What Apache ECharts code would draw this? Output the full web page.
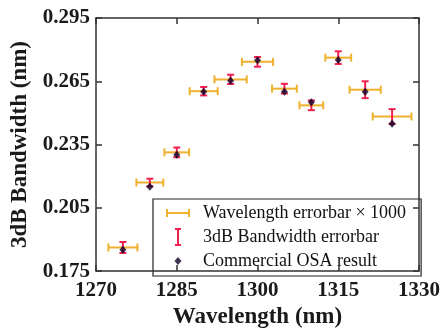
<!DOCTYPE html>
<html style="height: 100%">
<head>
<meta charset="utf-8">
<script src="https://cdn.jsdelivr.net/npm/echarts@6/dist/echarts.min.js"></script>
</head>
<body style="height: 100%; margin: 0; background: #fff;">
<div id="container" style="width: 443px; height: 334px"></div>
<script type="text/javascript">
// values
var wavelength = [1275, 1280, 1285, 1290, 1295, 1300, 1305, 1310, 1315, 1320, 1325];
var wlError    = [2.7, 2.5, 2.3, 2.6, 3.0, 2.9, 2.3, 2.2, 2.4, 2.9, 3.6];   // x1000, in nm
var bandwidth  = [0.1862, 0.2170, 0.2313, 0.2603, 0.2659, 0.2742, 0.2615, 0.2536, 0.2762, 0.2610, 0.2483];
var bwError    = [0.0026, 0.0018, 0.0023, 0.0020, 0.0022, 0.0023, 0.0023, 0.0023, 0.0030, 0.0040, 0.0035];
var osaResult  = [0.1851, 0.2150, 0.2302, 0.2600, 0.2652, 0.2750, 0.2600, 0.2550, 0.2751, 0.2600, 0.2449];

var xTicks = [1270, 1285, 1300, 1315, 1330];
var yTicks = [0.175, 0.205, 0.235, 0.265, 0.295];

var ORANGE = '#EFB12E';
var RED = '#F0204F';
var DARK = '#0E0026';
var FONT = 'Liberation Serif';

var myChart = echarts.init(document.getElementById('container'));

var wlData = [], bwData = [], osaData = [];
for (var i = 0; i < wavelength.length; i++) {
    wlData.push([wavelength[i], bandwidth[i], wlError[i]]);
    bwData.push([wavelength[i], bandwidth[i], bwError[i]]);
    osaData.push([wavelength[i], osaResult[i]]);
}

function renderWl(params, api) {
    var x = api.value(0), y = api.value(1), e = api.value(2);
    var a = api.coord([x - e, y]), b = api.coord([x + e, y]);
    var h = 4;
    var st = {stroke: ORANGE, lineWidth: 2, fill: null};
    return {type: 'group', children: [
        {type: 'line', shape: {x1: a[0], y1: a[1], x2: b[0], y2: b[1]}, style: st},
        {type: 'line', shape: {x1: a[0], y1: a[1] - h, x2: a[0], y2: a[1] + h}, style: st},
        {type: 'line', shape: {x1: b[0], y1: b[1] - h, x2: b[0], y2: b[1] + h}, style: st}
    ]};
}

function renderBw(params, api) {
    var x = api.value(0), y = api.value(1), e = api.value(2);
    var a = api.coord([x, y - e]), b = api.coord([x, y + e]);
    var w = 3.5;
    var st = {stroke: RED, lineWidth: 2, fill: null};
    return {type: 'group', children: [
        {type: 'line', shape: {x1: a[0], y1: a[1], x2: b[0], y2: b[1]}, style: st},
        {type: 'line', shape: {x1: a[0] - w, y1: a[1], x2: a[0] + w, y2: a[1]}, style: st},
        {type: 'line', shape: {x1: b[0] - w, y1: b[1], x2: b[0] + w, y2: b[1]}, style: st}
    ]};
}

var tickLabel = {fontFamily: FONT, fontWeight: 'bold', fontSize: 21, color: '#1a1a1a'};
var frameLine = {lineStyle: {color: '#333', width: 1.5}};
var frameTick = {inside: true, length: 6, lineStyle: {color: '#333', width: 1.5}};

var option = {
    animation: false,
    backgroundColor: '#fff',
    grid: {left: 96, right: 22, top: 18, bottom: 58},
    legend: {
        orient: 'vertical',
        left: 153,
        top: 199,
        padding: [4, 15, 5, 13],
        itemGap: 4,
        itemWidth: 32,
        itemHeight: 20,
        borderColor: '#222',
        borderWidth: 1.2,
        backgroundColor: '#fff',
        textStyle: {fontFamily: FONT, fontSize: 18, color: '#111'},
        data: [
            {name: 'Wavelength errorbar \u00d7 1000',
             icon: 'path://M0,0 M32,20 M0,6 H2 V9 H22 V6 H24 V14 H22 V11 H2 V14 H0 Z',
             itemStyle: {color: ORANGE, borderWidth: 0}},
            {name: '3dB Bandwidth errorbar',
             icon: 'path://M0,0 M32,20 M9,1 H15 V3 H13 V17 H15 V19 H9 V17 H11 V3 H9 Z',
             itemStyle: {color: RED, borderWidth: 0}},
            {name: 'Commercial OSA result',
             icon: 'path://M0,0 M32,20 M12,6 L15.5,10 L12,14 L8.5,10 Z',
             itemStyle: {color: DARK, borderWidth: 0}}
        ]
    },
    xAxis: [{
        type: 'value', min: xTicks[0], max: xTicks[xTicks.length - 1], interval: 15,
        name: 'Wavelength (nm)', nameLocation: 'middle', nameGap: 34,
        nameTextStyle: {fontFamily: FONT, fontWeight: 'bold', fontSize: 23, color: '#1a1a1a'},
        axisLine: frameLine, axisTick: frameTick, splitLine: {show: false},
        axisLabel: Object.assign({margin: 9, formatter: function (v) { return String(v); }}, tickLabel), z: 10
    }, {
        type: 'value', position: 'top', min: xTicks[0], max: xTicks[xTicks.length - 1], interval: 15,
        axisLine: frameLine, axisTick: frameTick, splitLine: {show: false},
        axisLabel: {show: false}
    }],
    yAxis: [{
        type: 'value', min: yTicks[0], max: yTicks[yTicks.length - 1], interval: 0.03,
        name: '3dB Bandwidth (nm)', nameLocation: 'middle', nameGap: 59,
        nameTextStyle: {fontFamily: FONT, fontWeight: 'bold', fontSize: 23, color: '#1a1a1a'},
        axisLine: frameLine, axisTick: frameTick, splitLine: {show: false},
        axisLabel: Object.assign({margin: 6, formatter: function (v) { return v.toFixed(3); }}, tickLabel)
    }, {
        type: 'value', position: 'right', min: yTicks[0], max: yTicks[yTicks.length - 1], interval: 0.03,
        axisLine: frameLine, axisTick: frameTick, splitLine: {show: false},
        axisLabel: {show: false}, z: 10
    }],
    series: [{
        name: 'Wavelength errorbar \u00d7 1000',
        type: 'custom',
        renderItem: renderWl,
        itemStyle: {color: ORANGE},
        encode: {x: 0, y: 1},
        data: wlData,
        z: 2
    }, {
        name: '3dB Bandwidth errorbar',
        type: 'custom',
        renderItem: renderBw,
        itemStyle: {color: RED},
        encode: {x: 0, y: 1},
        data: bwData,
        z: 3
    }, {
        name: 'Commercial OSA result',
        type: 'scatter',
        symbol: 'diamond',
        symbolSize: [7, 8],
        itemStyle: {color: DARK},
        data: osaData,
        z: 4
    }]
};

myChart.setOption(option);
</script>
</body>
</html>
